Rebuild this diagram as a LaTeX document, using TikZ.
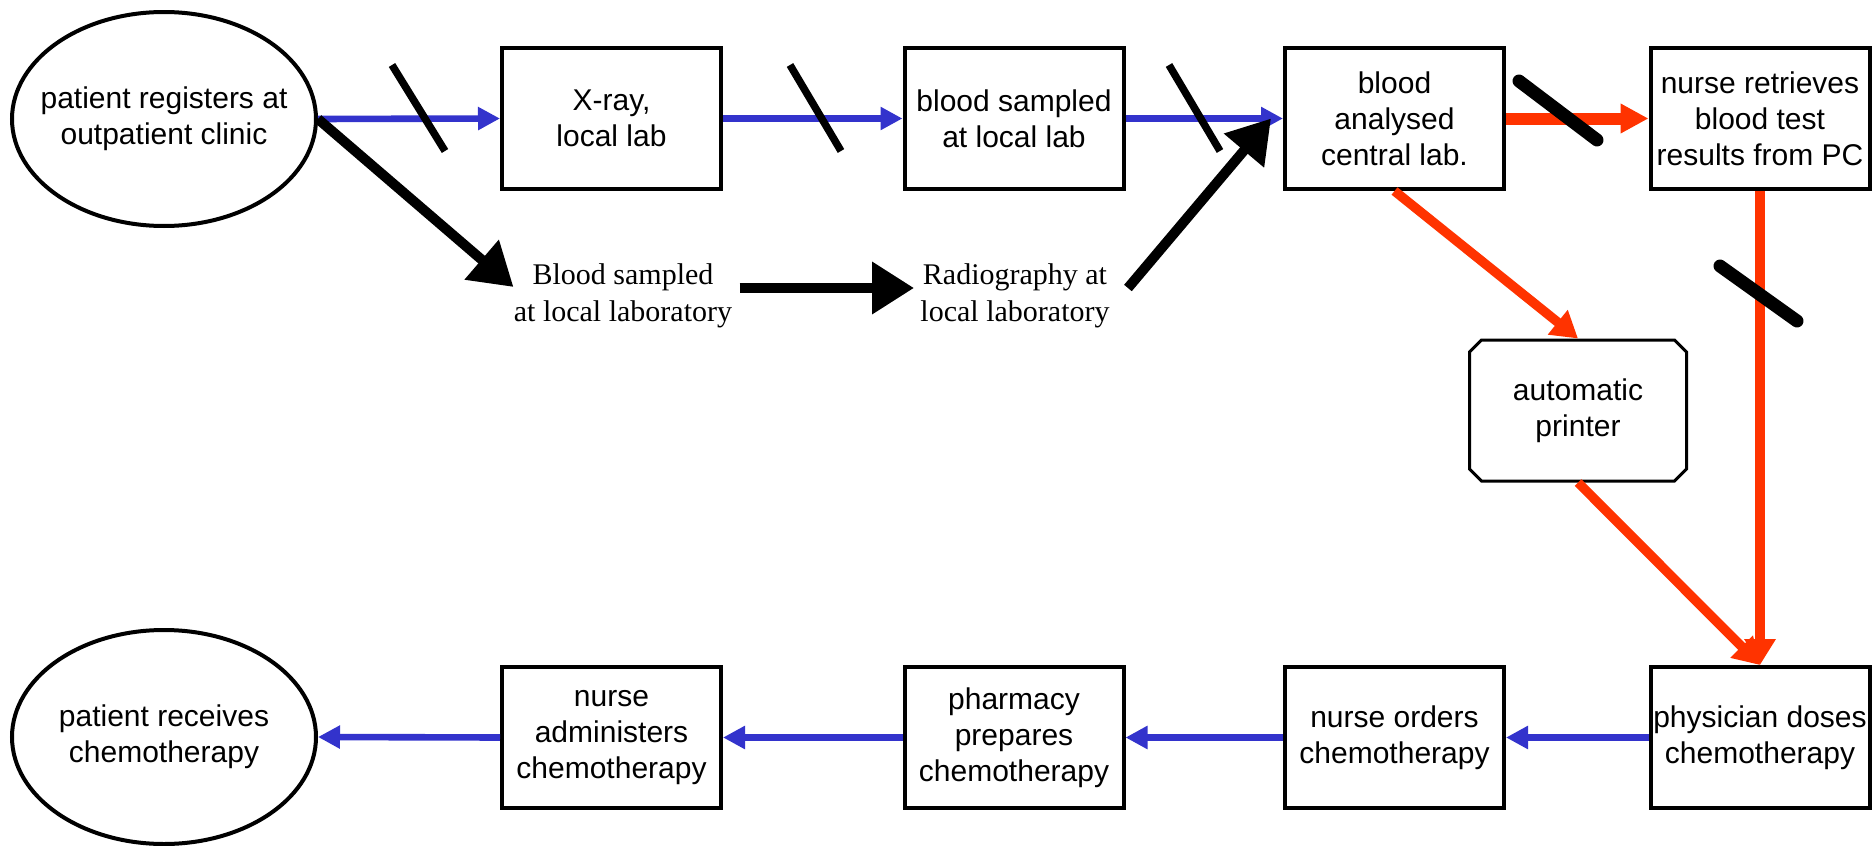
\documentclass[tikz,border=0pt]{standalone}
\usepackage{fontspec}
\setmainfont{Liberation Sans}
\newfontfamily\timesfont{Liberation Serif}
\usetikzlibrary{arrows.meta,shapes.geometric,shapes.misc,calc}
\definecolor{flowblue}{RGB}{51,51,204}
\definecolor{flowred}{RGB}{255,51,0}
\begin{document}
\begin{tikzpicture}[x=0.5pt,y=-0.5pt,
  every node/.style={font=\fontsize{15pt}{18pt}\selectfont, align=center, inner sep=0pt},
  stepbox/.style={draw, line width=2pt, minimum width=109.5pt, minimum height=70.5pt},
  terminal/.style={draw, ellipse, line width=2pt, inner xsep=-10pt,
    minimum width=152pt, minimum height=107pt},
  printerbox/.style={draw, chamfered rectangle, chamfered rectangle xsep=3pt,
    chamfered rectangle ysep=3pt, line width=1.5pt, minimum width=108.5pt, minimum height=70.5pt},
  note/.style={font=\timesfont\fontsize{15pt}{18.5pt}\selectfont},
  bluearrow/.style={color=flowblue, line width=3.3pt, -{Triangle[length=11pt,width=11pt]}},
  blackarrow/.style={color=black, line width=5pt, -{Triangle[length=21pt,width=25pt]}},
  redmain/.style={color=flowred, line width=6pt, -{Triangle[length=14pt,width=14pt]}},
  redarrow/.style={color=flowred, line width=4.75pt, -{Triangle[length=13pt,width=15pt]}},
  slash/.style={line width=3.75pt},
  redslash/.style={line width=6.5pt, line cap=round}
]
\useasboundingbox (0,0) rectangle (1876,846);

% process steps
\node[terminal] (reg) at (164,119) {patient registers at\\outpatient clinic};
\node[stepbox] (xr)  at (611.5,118.5) {X-ray,\\local lab};
\node[stepbox] (bsl) at (1014,118.5) {blood sampled\\at local lab};
\node[stepbox] (bac) at (1394.5,118.5) {blood\\analysed\\central lab.};
\node[stepbox] (nrt) at (1760,118.5) {nurse retrieves\\blood test\\results from PC};
\node[printerbox] (prn) at (1578,410.5) {automatic\\printer};
\node[stepbox] (phy) at (1760,737.5) {physician doses\\chemotherapy};
\node[stepbox] (nor) at (1394.5,737.5) {nurse orders\\chemotherapy};
\node[stepbox] (pha) at (1014,737.5) {pharmacy\\prepares\\chemotherapy};
\node[stepbox] (nad) at (611.5,737.5) {nurse\\administers\\chemotherapy};
\node[terminal] (rec) at (164,737) {patient receives\\chemotherapy};

% alternative route
\node[note] (bloc) at (623,296) {Blood sampled\\at local laboratory};
\node[note] (rloc) at (1015,296) {Radiography at\\local laboratory};

% blue flow
\draw[bluearrow] (reg.east) -- (xr.west);
\draw[bluearrow] (xr) -- (bsl);
\draw[bluearrow] (bsl) -- (bac);
\draw[bluearrow] (phy) -- (nor);
\draw[bluearrow] (nor) -- (pha);
\draw[bluearrow] (pha) -- (nad);
\draw[bluearrow] (nad.west) -- (rec.east);

% black route
\draw[blackarrow] (reg.east) -- ($(bloc.west)+(0,-9)$);
\draw[blackarrow] ($(bloc.east)+(7,-8)$) -- ($(rloc.west)+(-6,-8)$);
\draw[blackarrow] ($(rloc.east)+(18,-8)$) -- ($(bac.west)+(-12,0)$);

% red flow
\draw[redmain] (bac) -- (nrt);
\draw[redarrow] (bac.south) -- (prn.north);
\draw[redarrow] (prn.south) -- (phy.north);
\draw[redarrow] (nrt.south) -- (phy.north);

% crossed-out links
\draw[slash] (392,65) -- (445,151);
\draw[slash] (790,65) -- (841,151);
\draw[slash] (1169,65) -- (1220,151);
\draw[redslash] (1519,81) -- (1597,140);
\draw[redslash] (1720,266) -- (1797,321);
\end{tikzpicture}
\end{document}
